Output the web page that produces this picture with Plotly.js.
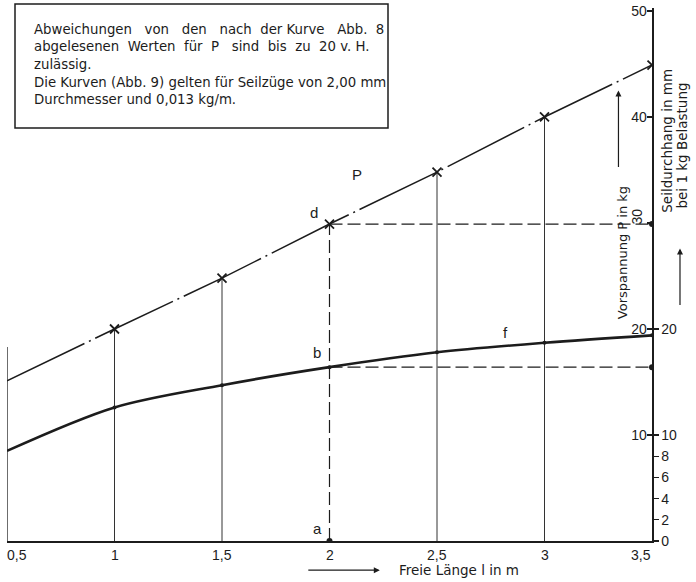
<!DOCTYPE html>
<html>
<head>
<meta charset="utf-8">
<script src="https://cdn.plot.ly/plotly-3.0.1.min.js"></script>
<style>html,body{margin:0;padding:0;background:#fff;}#chart{width:696px;height:582px;}</style>
</head>
<body>
<div id="chart"></div>
<script>
// ---- data ----
const lengths   = [0.5, 1, 1.5, 2, 2.5, 3, 3.5];          // Freie Länge l in m
const pValues   = [15.1, 20.0, 24.8, 29.9, 34.8, 40.0, 44.9]; // Vorspannung P in kg
const sagValues = [8.5, 12.6, 14.7, 16.4, 17.8, 18.7, 19.4];  // Seildurchhang in mm (Kurve f)
const xTickVals = [0.5, 1, 1.5, 2, 2.5, 3, 3.5];
const xTickText = ["0,5", "1", "1,5", "2", "2,5", "3", "3,5"];
const pTickVals = [10, 20, 30, 40, 50];
const pTickText = ["10", "20", "", "40", "50"];
const sagTickVals = [0, 2, 4, 6, 8, 10, 20];
const sagTickText = ["0", "2", "4", "6", "8", "10", "20"];
const leftFrameTop = 18.3;
const noteLines = [
  "Abweichungen\u00a0\u00a0 von\u00a0\u00a0 den\u00a0\u00a0 nach\u00a0 der\u00a0Kurve\u00a0\u00a0 Abb.\u00a0\u00a08",
  "abgelesenen\u00a0 Werten\u00a0 für\u00a0 P\u00a0\u00a0 sind\u00a0 bis\u00a0 zu\u00a0 20 v. H.",
  "zulässig.",
  "Die Kurven (Abb. 9) gelten für Seilzüge von 2,00 mm",
  "Durchmesser und 0,013 kg/m."
];

const INK = "#1c1c1c";
const FONT = "Liberation Sans, Arial, sans-serif";
const WIDEFONT = "DejaVu Sans, sans-serif";
const iD = lengths.indexOf(2);
const xEnd = lengths[lengths.length - 1];
const yTop = 50.28;

// guide verticals (thin, solid) at every marked length except 2 (dashed) and 3.5 (axis)
const gx = [], gy = [];
lengths.forEach((l, i) => {
  if (i === 0 || l === 2 || l === xEnd) return;
  gx.push(l, l, null); gy.push(0, pValues[i], null);
});

const traces = [
  { // left frame edge
    x: [lengths[0], lengths[0]], y: [0, leftFrameTop], mode: "lines",
    line: { color: INK, width: 1.3 }, hoverinfo: "skip" },
  { x: gx, y: gy, mode: "lines", line: { color: INK, width: 0.9 }, hoverinfo: "skip" },
  { // dashed construction a-d, d-e, b-c
    x: [lengths[iD], lengths[iD], null, lengths[iD], xEnd, null, lengths[iD], xEnd],
    y: [0, pValues[iD], null, pValues[iD], pValues[iD], null, sagValues[iD], sagValues[iD]],
    mode: "lines", line: { color: INK, width: 1.2, dash: "13px,5px" }, hoverinfo: "skip" },
  { // P curve
    x: lengths, y: pValues, mode: "lines",
    line: { color: INK, width: 1.5, dash: "86px,5px,2px,5px" }, hoverinfo: "skip" },
  { x: lengths.slice(1), y: pValues.slice(1), mode: "markers",
    marker: { symbol: "x-thin", size: 9, line: { color: INK, width: 1.8 } }, hoverinfo: "skip" },
  { // f curve
    x: lengths, y: sagValues, mode: "lines",
    line: { color: INK, width: 2.6, shape: "spline", smoothing: 0.9 }, hoverinfo: "skip" },
  { x: lengths.slice(1), y: sagValues.slice(1), mode: "markers",
    marker: { color: INK, size: 4 }, hoverinfo: "skip" },
  { // points a, e, c
    x: [lengths[iD], xEnd, xEnd], y: [0, pValues[iD], sagValues[iD]], mode: "markers",
    marker: { color: INK, size: 6 }, hoverinfo: "skip" }
];

const annotations = [];
xTickVals.forEach((v, i) => {
  annotations.push({ x: v, xref: "x", y: -0.027, yref: "paper", text: xTickText[i],
    showarrow: false, font: { family: FONT, size: 14, color: INK },
    xanchor: "center", yanchor: "middle",
    xshift: i === 0 ? 10 : (i === xTickVals.length - 1 ? -11 : 0) });
});
const lbl = (t, x, y, extra) => Object.assign({ x, y, xref: "x", yref: "y", text: t, showarrow: false,
  font: { family: FONT, size: 15, color: INK }, xanchor: "center", yanchor: "middle" }, extra || {});
annotations.push(
  lbl("a", 1.945, 1.15),
  lbl("b", 1.943, 17.8),
  lbl("c", 3.547, 16.4),
  lbl("d", 1.93, 31.0),
  lbl("e", 3.537, 30.4),
  lbl("f", 2.82, 19.7),
  lbl("P", 2.13, 34.6),
  lbl("30", 3.43, 30.6, { textangle: -90, font: { family: FONT, size: 14, color: INK } })
);
const pc = { xref: "paper", yref: "paper", xanchor: "center", yanchor: "middle" };
// axis titles and arrows
annotations.push(
  Object.assign({}, pc, { x: 0.9535, y: 0.54, text: "Vorspannung P in kg", textangle: -90,
    showarrow: false, font: { family: WIDEFONT, size: 13, color: INK } }),
  Object.assign({}, pc, { x: 0.948, y: 0.845, ax: 0, ay: 78, text: "", showarrow: true,
    arrowhead: 2, arrowsize: 1, arrowwidth: 1.2, arrowcolor: INK }),
  Object.assign({}, pc, { x: 1.0233, y: 0.751, text: "Seildurchhang in mm", textangle: -90,
    showarrow: false, font: { family: WIDEFONT, size: 13.5, color: INK } }),
  Object.assign({}, pc, { x: 1.045, y: 0.742, text: "bei 1 kg Belastung", textangle: -90,
    showarrow: false, font: { family: WIDEFONT, size: 13.5, color: INK } }),
  Object.assign({}, pc, { x: 1.0434, y: 0.549, ax: 0, ay: 58, text: "", showarrow: true,
    arrowhead: 2, arrowsize: 1, arrowwidth: 1.2, arrowcolor: INK }),
  Object.assign({}, pc, { x: 0.578, y: -0.0547, ax: -73, ay: 0, text: "", showarrow: true,
    arrowhead: 2, arrowsize: 1, arrowwidth: 1.2, arrowcolor: INK }),
  Object.assign({}, pc, { x: 0.6047, y: -0.0547, text: "Freie Länge l in m", xanchor: "left",
    showarrow: false, font: { family: WIDEFONT, size: 13.5, color: INK } })
);
const noteY = [29, 47, 64.5, 82, 99];
noteLines.forEach((t, i) => {
  annotations.push({ xref: "paper", yref: "paper", x: (32 - 7) / 645, y: (541 - noteY[i]) / 533,
    text: t, xanchor: "left", yanchor: "middle", showarrow: false,
    font: { family: WIDEFONT, size: 13.3, color: INK } });
});

const layout = {
  width: 696, height: 582,
  margin: { l: 7, r: 44, t: 8, b: 41 },
  paper_bgcolor: "#ffffff", plot_bgcolor: "#ffffff",
  showlegend: false,
  xaxis: { range: [0.5, 3.5], showline: true, linecolor: INK, linewidth: 1.5, ticks: "",
    showticklabels: false, showgrid: false, zeroline: false, fixedrange: true },
  yaxis: { range: [0, yTop], side: "right", showline: true, linecolor: INK, linewidth: 1.5,
    ticks: "outside", ticklen: 5, tickwidth: 1.3, tickcolor: INK,
    tickvals: sagTickVals, ticktext: sagTickText,
    tickfont: { family: FONT, size: 14, color: INK },
    showgrid: false, zeroline: false, fixedrange: true },
  yaxis2: { range: [0, yTop], overlaying: "y", side: "right", showline: false,
    ticks: "inside", ticklen: 5, tickwidth: 1.3, tickcolor: INK,
    tickvals: pTickVals, ticktext: pTickText, ticklabelposition: "inside",
    ticklabeloverflow: "allow",
    tickfont: { family: FONT, size: 14, color: INK },
    showgrid: false, zeroline: false, fixedrange: true },
  shapes: [
    { type: "rect", xref: "paper", yref: "paper",
      x0: (15 - 7) / 645, x1: (388 - 7) / 645, y0: (541 - 128) / 533, y1: (541 - 4) / 533,
      line: { color: INK, width: 1.5 }, fillcolor: "rgba(0,0,0,0)" }
  ],
  annotations
};
// invisible point so that the second (P) scale is drawn
traces.push({ x: [lengths[0]], y: [0], yaxis: "y2", mode: "markers", marker: { opacity: 0 }, hoverinfo: "skip" });

Plotly.newPlot("chart", traces, layout, { staticPlot: true, displayModeBar: false });
</script>
</body>
</html>
